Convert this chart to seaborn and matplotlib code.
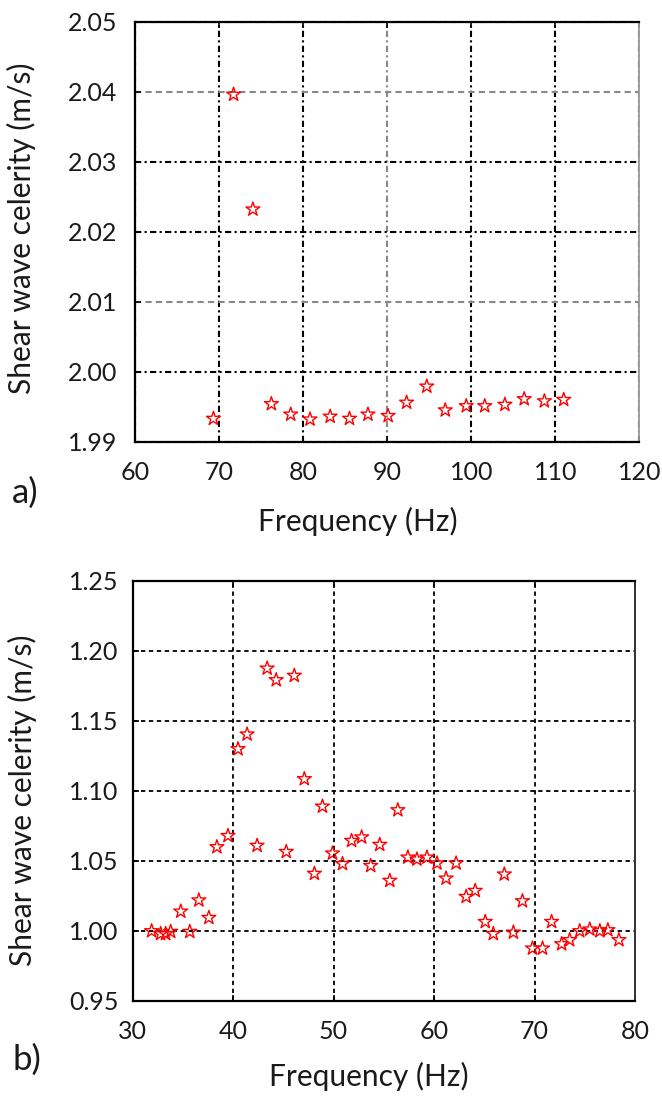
import matplotlib
matplotlib.use("Agg")
import matplotlib.pyplot as plt
import seaborn as sns
import numpy as np

# ---- data: panel a ----
freq_a = [69.3, 71.7, 74.0, 76.2, 78.5, 80.8, 83.2, 85.5, 87.7, 90.1,
          92.3, 94.7, 96.9, 99.4, 101.6, 104.0, 106.3, 108.7, 111.0]
vel_a = [1.9933, 2.0396, 2.0232, 1.9954, 1.9939, 1.9932, 1.9936, 1.9933, 1.9939, 1.9937,
         1.9956, 1.9979, 1.9945, 1.9951, 1.9951, 1.9953, 1.9961, 1.9958, 1.9960]

# ---- data: panel b ----
freq_b = [31.9, 32.8, 33.3, 33.8, 34.8, 35.7, 36.6, 37.6, 38.4, 39.5,
          40.5, 41.4, 42.4, 43.4, 44.3, 45.3, 46.1, 47.1, 48.1, 48.9,
          49.9, 50.9, 51.8, 52.8, 53.7, 54.6, 55.6, 56.4, 57.4, 58.3,
          59.3, 60.3, 61.2, 62.2, 63.2, 64.1, 65.1, 65.9, 67.0, 67.9,
          68.8, 69.8, 70.8, 71.7, 72.7, 73.5, 74.5, 75.5, 76.5, 77.3, 78.4]
vel_b = [1.000, 0.998, 0.998, 0.9995, 1.014, 0.9995, 1.022, 1.0095, 1.060, 1.068,
         1.130, 1.1405, 1.061, 1.1876, 1.1793, 1.0566, 1.1824, 1.1086, 1.041, 1.089,
         1.0555, 1.048, 1.0645, 1.067, 1.0466, 1.0617, 1.036, 1.0864, 1.0526, 1.0512,
         1.0526, 1.0484, 1.0376, 1.0484, 1.0245, 1.0288, 1.0066, 0.998, 1.0405, 0.999,
         1.0214, 0.9876, 0.9876, 1.0066, 0.9907, 0.9936, 1.000, 1.0012, 1.000, 1.0007, 0.9936]

xticks_a = [60, 70, 80, 90, 100, 110, 120]
yticks_a = [1.99, 2.00, 2.01, 2.02, 2.03, 2.04, 2.05]
xticks_b = [30, 40, 50, 60, 70, 80]
yticks_b = [0.95, 1.00, 1.05, 1.10, 1.15, 1.20, 1.25]

sns.set_theme(style="white")
plt.rcParams['font.family'] = ['Lato', 'DejaVu Sans']

W, H = 662, 1096
fig = plt.figure(figsize=(W / 100, H / 100), dpi=100)

def px_axes(l, r, t, b):
    return fig.add_axes([l / W, 1 - b / H, (r - l) / W, (b - t) / H])

ax1 = px_axes(135.3, 639.3, 21.7, 441.7)
ax2 = px_axes(132.5, 635.0, 581.0, 1001.0)

tick_fs = 18
lab_fs = 21.5
txtc = '#1a1a1a'

for ax, fx, vy, xt, yt, fmt in [
        (ax1, freq_a, vel_a, xticks_a, yticks_a, '{:.2f}'),
        (ax2, freq_b, vel_b, xticks_b, yticks_b, '{:.2f}')]:
    sns.scatterplot(x=fx, y=vy, ax=ax, marker='*', s=110,
                    facecolor='none', edgecolor='red', linewidth=1.0, zorder=3)
    ax.set_xlim(xt[0], xt[-1])
    ax.set_ylim(yt[0], yt[-1])
    ax.set_xticks(xt)
    ax.set_yticks(yt)
    ax.set_xticklabels([str(v) for v in xt])
    ax.set_yticklabels([fmt.format(v) for v in yt])
    ax.tick_params(axis='both', direction='in', length=4, width=1.2,
                   labelsize=tick_fs, labelcolor=txtc, color='black',
                   top=True, bottom=True, left=True, right=False)
    for s in ['left', 'bottom', 'top']:
        ax.spines[s].set_color('black')
        ax.spines[s].set_linewidth(1.6)
    ax.set_axisbelow(True)

# spines styles
ax1.spines['right'].set_color('#9a9a9a')
ax1.spines['right'].set_linewidth(1.3)
ax2.spines['right'].set_color('#333333')
ax2.spines['right'].set_linewidth(1.4)

# tick label paddings
ax1.tick_params(axis='y', pad=13)
ax1.tick_params(axis='x', pad=14)
ax2.tick_params(axis='y', pad=10)
ax2.tick_params(axis='x', pad=14)

# grids
ax1.grid(True, color='black', linewidth=1.5, linestyle=(0, (3, 1.6, 1, 1.6)))
ax2.grid(True, color='black', linewidth=1.3, linestyle=(0, (2.4, 2.0)))
# some gridlines appear lighter in panel a
for i, v in enumerate(yticks_a):
    if v in (2.04, 2.01):
        ax1.get_ygridlines()[i].set_color('#888888')
        ax1.get_ygridlines()[i].set_linestyle((0, (3, 2)))
for i, v in enumerate(xticks_a):
    if v == 90:
        ax1.get_xgridlines()[i].set_color('#888888')

# labels
for ax, xc, yc, xl, yl in [(ax1, 0.442, -0.189, -0.225, 0.509),
                           (ax2, 0.471, -0.179, -0.220, 0.479)]:
    ax.set_xlabel('Frequency (Hz)', fontsize=lab_fs, color=txtc)
    ax.set_ylabel('Shear wave celerity (m/s)', fontsize=lab_fs, color=txtc)
    ax.xaxis.set_label_coords(xc, yc)
    ax.yaxis.set_label_coords(xl, yl)
    ax.xaxis.label.set_verticalalignment('center')
    ax.yaxis.label.set_verticalalignment('center')

fig.text(25 / W, 1 - 493 / H, 'a)', fontsize=25, color=txtc, ha='center', va='center')
fig.text(27 / W, 1 - 1060 / H, 'b)', fontsize=25, color=txtc, ha='center', va='center')

fig.savefig('out.png', dpi=100, facecolor='white')
